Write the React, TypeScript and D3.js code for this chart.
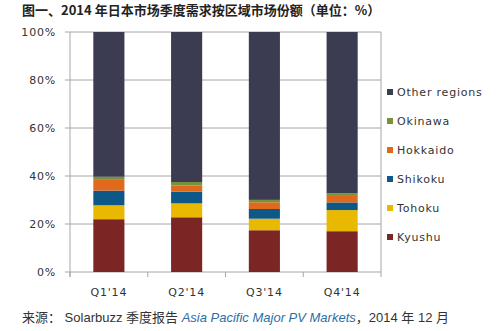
import React from "react";
import * as d3 from "d3";

const categories = ["Q1'14", "Q2'14", "Q3'14", "Q4'14"];
const seriesNames = ["Kyushu", "Tohoku", "Shikoku", "Hokkaido", "Okinawa", "Other regions"];
const kyushu = [22.0, 22.8, 17.4, 17.0];
const tohoku = [5.8, 5.8, 4.8, 8.8];
const shikoku = [6.1, 4.9, 4.05, 3.2];
const hokkaido = [4.8, 2.6, 2.8, 2.7];
const okinawa = [1.0, 1.4, 1.0, 1.1];
const otherRegions = [60.3, 62.5, 69.95, 67.2];
const yTicks = [0, 20, 40, 60, 80, 100];
const colors = ["#7b2525", "#e8b900", "#0e5887", "#e0691d", "#76923c", "#3b3c52"];

const seriesValues = [kyushu, tohoku, shikoku, hokkaido, okinawa, otherRegions];

export default function App() {
  const W = 500, H = 331;
  const left = 70, right = 381, top = 32, bottom = 272;
  const x = d3.scaleBand<string>().domain(categories).range([left, right]).paddingInner(0.6).paddingOuter(0.3);
  const xb = d3.scaleBand<string>().domain(categories).range([left, right]);
  const y = d3.scaleLinear().domain([0, 100]).range([bottom, top]);

  const rows = categories.map((c, i) => {
    const r: any = { cat: c };
    seriesNames.forEach((s, j) => (r[s] = seriesValues[j][i]));
    return r;
  });
  const stacked = d3.stack<any>().keys(seriesNames)(rows);
  const font = "Verdana, 'DejaVu Sans', sans-serif";
  const ls = 0.8;
  const legendOrder = [...seriesNames].reverse();

  return (
    <svg width={W} height={H} style={{ position: "absolute", left: 0, top: 0, background: "#fff" }}>
      <text x={22} y={15} fontFamily="'Noto Sans CJK SC', sans-serif" fontWeight="bold" fontSize={13} fill="#222">
        图一、2014 年日本市场季度需求按区域市场份额（单位：%）
      </text>
      {yTicks.map((t) => (
        <g key={t}>
          <line x1={left - 5} x2={right} y1={y(t)} y2={y(t)} stroke="#a6a6a6" strokeWidth={1} />
          <text x={56} y={y(t) + 4} textAnchor="end" fontFamily={font} fontSize={11} letterSpacing={ls} fill="#333">
            {t}%
          </text>
        </g>
      ))}
      <line x1={left} x2={left} y1={top} y2={bottom + 5} stroke="#a6a6a6" />
      <line x1={right} x2={right} y1={top} y2={bottom + 5} stroke="#a6a6a6" />
      {categories.map((c) => (
        <line key={"t" + c} x1={xb(c)!} x2={xb(c)!} y1={bottom} y2={bottom + 5} stroke="#a6a6a6" />
      ))}
      {stacked.map((layer, j) => (
        <g key={layer.key} fill={colors[j]}>
          {layer.map((d, i) => (
            <rect key={i} x={x(categories[i])!} width={x.bandwidth()} y={y(d[1])} height={y(d[0]) - y(d[1])} />
          ))}
        </g>
      ))}
      {categories.map((c) => (
        <text key={c} x={x(c)! + x.bandwidth() / 2} y={296} textAnchor="middle" fontFamily={font} fontSize={11} letterSpacing={ls} fill="#333">
          {c}
        </text>
      ))}
      {legendOrder.map((s, i) => {
        const j = seriesNames.indexOf(s);
        const ly = 92 + i * 29;
        return (
          <g key={s}>
            <rect x={387} y={ly - 3} width={6} height={6} fill={colors[j]} />
            <text x={397} y={ly + 4} fontFamily={font} fontSize={11} letterSpacing={ls} fill="#333">
              {s}
            </text>
          </g>
        );
      })}
      <text x={22} y={322} fontFamily="'Liberation Sans', 'Noto Sans CJK SC', sans-serif" fontSize={13} fill="#333">
        来源： Solarbuzz 季度报告{" "}
        <tspan fill="#2e6da4" fontStyle="italic">Asia Pacific Major PV Markets</tspan>
        ，2014 年 12 月
      </text>
    </svg>
  );
}
